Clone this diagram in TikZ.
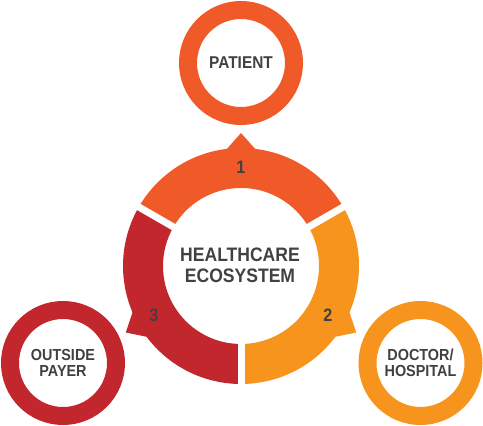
\documentclass[tikz,border=0pt]{standalone}
\usepackage{fontspec}
\newfontfamily\lblfont[FakeStretch=0.9]{Liberation Sans}
\usetikzlibrary{calc}
\definecolor{patientorange}{HTML}{F05A28}
\definecolor{doctororange}{HTML}{F7941D}
\definecolor{payerred}{HTML}{C1272D}
\definecolor{labelgray}{HTML}{414042}

\begin{document}
\begin{tikzpicture}[x=1pt, y=1pt,
    label text/.style 2 args={text=labelgray, font=\lblfont\bfseries\fontsize{#1}{#2}\selectfont, align=center, inner sep=0pt},
    ring/.style={circle, draw=#1, line width=18pt, minimum size=106pt, inner sep=0pt},
    gapline/.style={white, line width=7pt}]
    \useasboundingbox (0,0) rectangle (483,426);
    \coordinate (C) at (241,160);

    % Central ring, three segments
    \fill[patientorange] ($(C)+(30:118)$) arc[start angle=30, end angle=150, radius=118]
        -- ($(C)+(150:78)$) arc[start angle=150, end angle=30, radius=78] -- cycle;
    \fill[payerred] ($(C)+(150:118)$) arc[start angle=150, end angle=270, radius=118]
        -- ($(C)+(270:78)$) arc[start angle=270, end angle=150, radius=78] -- cycle;
    \fill[doctororange] ($(C)+(270:118)$) arc[start angle=270, end angle=390, radius=118]
        -- ($(C)+(30:78)$) arc[start angle=30, end angle=-90, radius=78] -- cycle;

    % Arrow tips
    \fill[patientorange] ($(C)+(82.6:117)$) -- ($(C)+(90:133)$) -- ($(C)+(97.4:117)$) -- cycle;
    \fill[payerred] ($(C)+(202.6:117)$) -- ($(C)+(210:133)$) -- ($(C)+(217.4:117)$) -- cycle;
    \fill[doctororange] ($(C)+(322.6:117)$) -- ($(C)+(330:133)$) -- ($(C)+(337.4:117)$) -- cycle;

    % Gaps between segments
    \draw[gapline] (C) -- ($(C)+(30:125)$);
    \draw[gapline] (C) -- ($(C)+(150:125)$);
    \draw[gapline] (C) -- ($(C)+(270:125)$);

    \node[label text={19.5}{21.5}] (hub) at (240,160.5) {HEALTHCARE\\ECOSYSTEM};
    \node[label text={18}{20}] (n1) at (241,259) {1};
    \node[label text={18}{20}] (n2) at (328,111) {2};
    \node[label text={18}{20}] (n3) at (154,111) {3};

    % Outer circles
    \node[ring=patientorange, label text={17.1}{20}] (patient) at (241,363) {PATIENT};
    \node[ring=payerred, label text={16}{15.5}] (payer) at (63,63) {OUTSIDE\\PAYER};
    \node[ring=doctororange, label text={16}{15.5}] (doctor) at (420.5,63) {DOCTOR/\\HOSPITAL};
\end{tikzpicture}
\end{document}
